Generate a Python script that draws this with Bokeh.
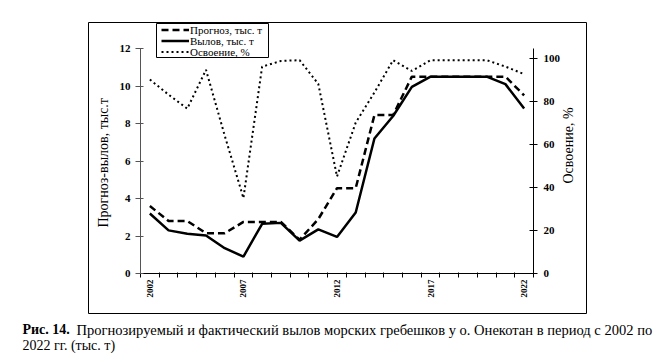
import math
from bokeh.plotting import figure
from bokeh.models import (Range1d, LinearAxis, FixedTicker, Legend, LegendItem, Label)
from bokeh.embed import file_html
from bokeh.resources import INLINE

# ---------------- data ----------------
years = list(range(2002, 2023))
forecast = [3.6, 2.8, 2.8, 2.15, 2.15, 2.75, 2.75, 2.75, 1.8, 2.9, 4.55, 4.55,
            8.45, 8.45, 10.5, 10.5, 10.5, 10.5, 10.5, 10.5, 9.5]
catch = [3.2, 2.3, 2.12, 2.03, 1.35, 0.9, 2.65, 2.7, 1.75, 2.35, 1.95, 3.25,
         7.2, 8.4, 9.95, 10.5, 10.5, 10.5, 10.5, 10.1, 8.8]
mastery = [90, 83, 76.5, 94.5, 64, 35, 96, 98.6, 99, 88, 45, 70,
           84, 99, 94, 99, 99, 99, 99, 96, 92.5]
left_ticks = [0, 2, 4, 6, 8, 10, 12]
right_ticks = [0, 20, 40, 60, 80, 100]
year_labels = [2002, 2007, 2012, 2017, 2022]
series_names = ["Прогноз, тыс. т", "Вылов, тыс. т", "Освоение, %"]
caption_bold = "Рис. 14."
caption_1 = "Прогнозируемый и фактический вылов морских гребешков у о. Онекотан в период с 2002 по"
caption_2 = "2022 гг. (тыс. т)"

# ---------------- geometry (page pixels) ----------------
W, H = 667, 362
BOX = (88, 22, 586, 313)          # outer chart-area border
PL, PR, PT, PB = 140, 533, 48, 273  # plot area
cw = (PR - PL) / len(years)
ppu = (PB - PT) / 12.0
ppp = 2.155

x0 = years[0] - 0.5 - PL / cw
x1 = x0 + W / cw
y1 = PB / ppu
y0 = -(H - PB) / ppu
r1 = PB / ppp
r0 = -(H - PB) / ppp


def X(px):
    return x0 + px / cw


def Y(py):
    return y1 - py / ppu


SERIF = "Liberation Serif"

p = figure(width=W, height=H, x_range=Range1d(x0, x1), y_range=Range1d(y0, y1),
           output_backend="svg", toolbar_location=None,
           x_axis_type=None, y_axis_type=None, min_border=0)
p.extra_y_ranges = {"pct": Range1d(r0, r1)}
p.outline_line_color = None
p.background_fill_color = "white"
p.border_fill_color = "white"

# outer border of the chart area
p.quad(left=[X(BOX[0])], right=[X(BOX[2])], top=[Y(BOX[1])], bottom=[Y(BOX[3])],
       fill_color=None, line_color="black", line_width=1)

# lines
r_fc = p.line(years, forecast, line_color="black", line_width=2.5, line_dash="7 4")
r_ca = p.line(years, catch, line_color="black", line_width=2.5)
r_ms = p.line(years, mastery, line_color="black", line_width=2, line_dash="2 3",
              y_range_name="pct")

# x axis: ticks between categories
bounds_ticks = [y - 0.5 for y in years] + [years[-1] + 0.5]
xa = LinearAxis(fixed_location=0, bounds=(years[0] - 0.5, years[-1] + 0.5),
                ticker=FixedTicker(ticks=bounds_ticks),
                major_label_overrides={t: "" for t in bounds_ticks},
                major_tick_in=1, major_tick_out=4, minor_tick_in=0, minor_tick_out=0,
                axis_line_color="black", major_tick_line_color="black")
p.add_layout(xa, "below")
xl = LinearAxis(fixed_location=0, ticker=FixedTicker(ticks=year_labels),
                axis_line_color=None, major_tick_line_color=None, minor_tick_line_color=None,
                major_tick_in=0, major_tick_out=0, minor_tick_in=0, minor_tick_out=0,
                major_label_orientation=math.pi / 2, major_label_standoff=6,
                major_label_text_font=SERIF, major_label_text_font_size="9px",
                major_label_text_font_style="bold", major_label_text_color="black")
p.add_layout(xl, "below")

ya = LinearAxis(fixed_location=years[0] - 0.5, bounds=(0, 12),
                ticker=FixedTicker(ticks=left_ticks),
                major_tick_in=3, major_tick_out=5, minor_tick_in=0, minor_tick_out=0,
                axis_line_color="#555555", major_tick_line_color="#555555",
                major_label_standoff=5, major_label_text_font=SERIF,
                major_label_text_font_size="11px", major_label_text_font_style="bold",
                major_label_text_color="black",
                axis_label="Прогноз-вылов,  тыс.т", axis_label_standoff=6,
                axis_label_text_font=SERIF, axis_label_text_font_size="14px",
                axis_label_text_font_style="normal", axis_label_text_color="black")
p.add_layout(ya, "left")

ra = LinearAxis(y_range_name="pct", fixed_location=years[-1] + 0.5,
                bounds=(0, (PB - PT) / ppp),
                ticker=FixedTicker(ticks=right_ticks),
                major_tick_in=4, major_tick_out=4, minor_tick_in=0, minor_tick_out=0,
                axis_line_color="black", major_tick_line_color="black",
                major_label_standoff=6, major_label_text_font=SERIF,
                major_label_text_font_size="11px", major_label_text_font_style="bold",
                major_label_text_color="black")
p.add_layout(ra, "right")

p.add_layout(Label(x=568, y=H - 145, x_units="screen", y_units="screen",
                   text="Освоение, %", angle=math.pi / 2, text_align="center",
                   text_baseline="middle", text_font=SERIF, text_font_size="14px",
                   text_color="black"))

# legend: box plus one single-item legend per row (tight rows as in the original)
LBOX = (156, 23, 268, 57)
p.quad(left=[X(LBOX[0])], right=[X(LBOX[2])], top=[Y(LBOX[1])], bottom=[Y(LBOX[3])],
       fill_color="white", line_color="black", line_width=1)
row_centers = [29.5, 40.5, 51.5]
for name, rend, cy in zip(series_names, [r_fc, r_ca, r_ms], row_centers):
    lg = Legend(items=[LegendItem(label=name, renderers=[rend])],
                location=(161, H - (cy + 6.1)), orientation="vertical",
                label_text_font=SERIF, label_text_font_size="11px",
                label_text_color="black", label_height=9, label_standoff=1,
                glyph_width=28, glyph_height=9, spacing=0, padding=0, margin=0,
                border_line_color=None, background_fill_alpha=0)
    p.add_layout(lg, "center")

# caption
cap_kw = dict(x_units="screen", y_units="screen", text_font=SERIF,
              text_baseline="alphabetic", text_color="black")
p.add_layout(Label(x=22, y=H - 329, text=caption_bold, text_font_style="bold",
                   text_font_size="14px", **cap_kw))
p.add_layout(Label(x=76, y=H - 329, text=caption_1, text_font_size="14.55px", **cap_kw))
p.add_layout(Label(x=22, y=H - 345, text=caption_2, text_font_size="14px", **cap_kw))

open("out.html", "w").write(file_html(p, INLINE))
